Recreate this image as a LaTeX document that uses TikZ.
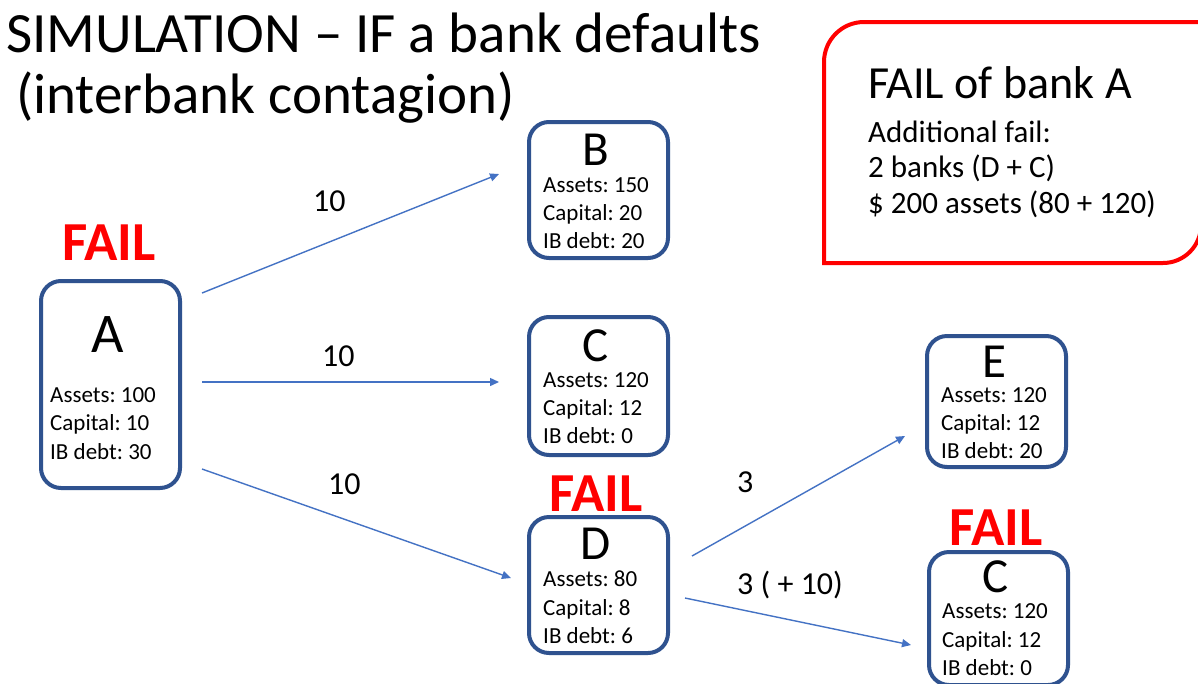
\documentclass[tikz,border=0pt]{standalone}
\usepackage{fontspec}
\setmainfont{Carlito}
\usetikzlibrary{arrows.meta}
\frenchspacing

\definecolor{bankblue}{HTML}{2F528F}
\definecolor{linkblue}{HTML}{4472C4}
\definecolor{failred}{HTML}{FF0000}

\newcommand\SzTitle{\fontsize{57}{68}\selectfont}
\newcommand\SzLetterA{\fontsize{56}{66}\selectfont}
\newcommand\SzLetter{\fontsize{49}{58}\selectfont}
\newcommand\SzBody{\fontsize{23}{28}\selectfont}
\newcommand\SzFail{\fontsize{55}{64}\selectfont\bfseries}
\newcommand\SzLink{\fontsize{32}{38}\selectfont}
\newcommand\SzHead{\fontsize{46}{55}\selectfont}
\newcommand\SzNote{\fontsize{31}{37}\selectfont}

\begin{document}
\begin{tikzpicture}[x=1pt,y=-1pt,
  bankbox/.style={draw=bankblue, line width=4pt, rounded corners=20pt,
    anchor=north west, inner sep=0pt, minimum width=139pt, minimum height=137pt},
  letter/.style={anchor=base, inner sep=0pt, font=\SzLetter},
  info/.style={anchor=base west, inner sep=0pt, font=\SzBody},
  failtag/.style={anchor=base, inner sep=0pt, text=failred, font=\SzFail},
  link/.style={draw=linkblue, line width=1.4pt, -{Triangle[length=9pt,width=8pt]}},
  linklabel/.style={anchor=base west, inner sep=0pt, font=\SzLink},
  note/.style={anchor=base west, inner sep=0pt, font=\SzNote}]

\fill[white] (0,0) rectangle (1198,683);
\useasboundingbox (0,0) rectangle (1198,683);

% title
\node[anchor=base west, inner sep=0pt, font=\SzTitle] (title1) at (6,52) {SIMULATION – IF a bank defaults};
\node[anchor=base west, inner sep=0pt, font=\SzTitle] (title2) at (16,113) {(interbank contagion)};

% summary box: rounded at top-left and bottom-right only
\draw[failred, line width=4pt] (824,263) -- (824,62) arc[start angle=180, end angle=270, radius=40]
  -- (1201,22) -- (1201,225) arc[start angle=0, end angle=90, radius=38] -- cycle;
\node[anchor=base west, inner sep=0pt, font=\SzHead] (sumhead) at (868,98) {FAIL of bank A};
\node[note] (sum1) at (868,142) {Additional fail:};
\node[note] (sum2) at (868,177) {2 banks (D + C)};
\node[note] (sum3) at (868,213) {\$ 200 assets (80 + 120)};

% bank A
\node[bankbox, minimum height=207pt] (A) at (39,279) {};
\node[failtag] (failA) at (109,260) {FAIL};
\node[letter, font=\SzLetterA] (lA) at (108,352) {A};
\node[info] (A1) at (50,402) {Assets: 100};
\node[info] (A2) at (50,430) {Capital: 10};
\node[info] (A3) at (50,459) {IB debt: 30};

% bank B
\node[bankbox, minimum height=136pt] (B) at (527,120) {};
\node[letter] (lB) at (596,165) {B};
\node[info] (B1) at (543,192) {Assets: 150};
\node[info] (B2) at (543,220) {Capital: 20};
\node[info] (B3) at (543,248) {IB debt: 20};

% bank C
\node[bankbox, minimum height=138pt] (C) at (527,315) {};
\node[letter] (lC) at (596,361) {C};
\node[info] (C1) at (543,387) {Assets: 120};
\node[info] (C2) at (543,415) {Capital: 12};
\node[info] (C3) at (543,443) {IB debt: 0};

% bank D
\node[bankbox, minimum height=136pt] (D) at (527,515) {};
\node[failtag] (failD) at (596,511) {FAIL};
\node[letter] (lD) at (596,559) {D};
\node[info] (D1) at (543,586) {Assets: 80};
\node[info] (D2) at (543,615) {Capital: 8};
\node[info] (D3) at (543,643) {IB debt: 6};

% bank E
\node[bankbox, minimum height=131pt] (E) at (925,334) {};
\node[letter] (lE) at (994,377) {E};
\node[info] (E1) at (941,402) {Assets: 120};
\node[info] (E2) at (941,430) {Capital: 12};
\node[info] (E3) at (941,458) {IB debt: 20};

% bank C, second round
\node[bankbox, minimum height=133pt] (CC) at (927,550) {};
\node[failtag] (failCC) at (996,545) {FAIL};
\node[letter] (lCC) at (996,592) {C};
\node[info] (CC1) at (942,618) {Assets: 120};
\node[info] (CC2) at (942,647) {Capital: 12};
\node[info] (CC3) at (942,675) {IB debt: 0};

% exposures
\coordinate (ab0) at (202,293); \coordinate (ab1) at (499,174);
\coordinate (ac0) at (202,382); \coordinate (ac1) at (499,382);
\coordinate (ad0) at (202,469); \coordinate (ad1) at (511,578);
\coordinate (de0) at (692,556); \coordinate (de1) at (905,436);
\coordinate (dc0) at (685,598); \coordinate (dc1) at (911,645);
\draw[link] (ab0) -- (ab1);
\draw[link] (ac0) -- (ac1);
\draw[link] (ad0) -- (ad1);
\draw[link] (de0) -- (de1);
\draw[link] (dc0) -- (dc1);

\node[linklabel] (wAB) at (313,211) {10};
\node[linklabel] (wAC) at (322,366) {10};
\node[linklabel] (wAD) at (328,494) {10};
\node[linklabel] (wDE) at (737,492) {3};
\node[linklabel] (wDC) at (737,594) {3 ( + 10)};

\end{tikzpicture}
\end{document}
